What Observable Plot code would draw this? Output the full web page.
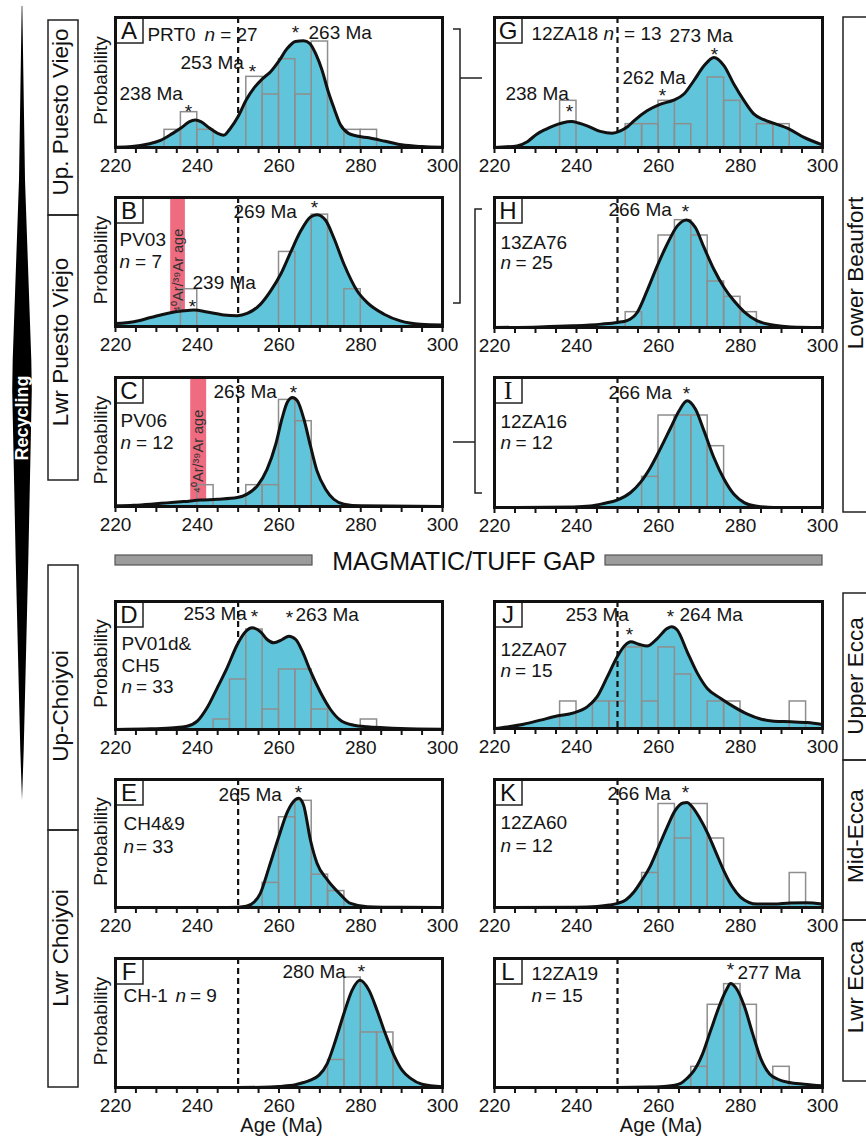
<!DOCTYPE html>
<html><head><meta charset="utf-8">
<script src="https://cdn.jsdelivr.net/npm/d3@7"></script>
<script src="https://cdn.jsdelivr.net/npm/@observablehq/plot@0.6"></script>
<style>
body{margin:0;background:#fff;}
#root{position:relative;width:866px;height:1136px;overflow:hidden;font-family:"Liberation Sans",Arial,sans-serif;}
#root svg{position:absolute;overflow:visible;}
</style></head><body><div id="root"></div>
<script>
// ---------- axis data ----------
const ageDomain = [220, 300];
const minorTicks = [220,225,230,235,240,245,250,255,260,265,270,275,280,285,290,295,300];
const tickLabels = [220,240,260,280,300];
const binWidth = 4;
const cutoffAge = 250;

// ---------- sample metadata (panels A..L) ----------
const panelLetters = ["A","B","C","D","E","F","G","H","I","J","K","L"];
const sampleNames = ["PRT0","PV03","PV06","PV01d&\nCH5","CH4&9","CH-1","12ZA18","13ZA76","12ZA16","12ZA07","12ZA60","12ZA19"];
const grainCounts = [27,7,12,33,33,9,13,25,12,15,12,15];
const peakAges = [[238,253,263],[239,269],[263],[253,263],[265],[280],[238,262,273],[266],[266],[253,264],[266],[277]];
const arArBands = [[233.5,237.1],[238.4,242.3]]; // B, C

// ---------- histograms: [bin start (Ma), grain count] ----------
const histA = [[232,1],[236,2],[240,1],[252,4],[256,3],[260,5],[264,3],[268,6],[276,1],[280,1]];
const histB = [[236,1],[260,2],[268,3],[276,1]];
const histC = [[240,1],[252,1],[256,1],[260,5],[264,4]];
const histD = [[244,1],[248,5],[252,10],[256,2],[260,6],[264,6],[268,2],[280,1]];
const histE = [[256,3],[260,11],[264,13],[268,4],[272,2]];
const histF = [[272,1],[276,4],[280,2],[284,2]];
const histG = [[236,2],[252,1],[256,1],[260,2],[264,1],[272,3],[276,2],[284,1],[288,1]];
const histH = [[252,1],[260,6],[264,7],[268,6],[272,3],[276,2],[280,1]];
const histI = [[256,1],[260,3],[264,3],[268,3],[272,2]];
const histJ = [[236,1],[244,1],[248,1],[252,3],[256,1],[260,3],[264,2],[272,1],[276,1],[292,1]];
const histK = [[256,1],[260,3],[264,2],[268,3],[272,2],[292,1]];
const histL = [[268,1],[272,4],[276,5],[280,4],[288,1]];

// ---------- probability density curves: [age (Ma), value in count units] ----------
const curveA = [[220,0.02],[224,0.06],[228,0.2],[231,0.4],[234,0.8],[236,1.1],[238,1.45],[239.5,1.55],[241,1.45],[243,1.1],[245,0.8],[246.5,0.7],[248,1.05],[250,1.75],[252,2.7],[254,3.4],[256,3.9],[258,4.3],[260,4.9],[262,5.6],[264,6.0],[266,6.05],[267.5,5.9],[269,5.3],[270.5,4.4],[272,3.2],[273.5,2.2],[275,1.3],[277,0.8],[279,0.65],[282,0.55],[286,0.35],[290,0.15],[295,0.05],[300,0.01]];
const curveB = [[220,0.08],[224.5,0.13],[228.6,0.24],[232.6,0.35],[236.7,0.42],[239.2,0.44],[242.4,0.39],[246.5,0.31],[249.8,0.29],[252.2,0.35],[255.5,0.6],[258,0.96],[260.4,1.4],[262.8,1.98],[265.3,2.56],[267.7,2.94],[269.3,3.0],[271.4,2.85],[273.4,2.38],[275.9,1.67],[279.1,0.96],[281.6,0.64],[285.7,0.33],[289.7,0.15],[294.6,0.06],[300,0.04]];
const curveC = [[220,0.03],[224.5,0.06],[228.6,0.11],[232.6,0.17],[236.7,0.23],[240.8,0.3],[244.9,0.34],[249.8,0.42],[252.2,0.58],[254.7,0.97],[257.1,1.75],[259.2,2.92],[260.8,4.17],[262,4.88],[263.3,5.11],[264.5,4.95],[266.1,4.09],[267.7,2.84],[269.3,1.67],[271.4,0.81],[273.4,0.34],[275.9,0.11],[280,0.03],[300,0]];
const curveD = [[220,0],[228.6,0.07],[234.3,0.17],[237.5,0.33],[240,0.83],[242.4,2.17],[244.9,4.17],[247.3,6.17],[249.8,8.5],[251.8,9.77],[253.4,10.17],[255.5,9.77],[257.1,9.0],[258.7,8.67],[260.8,9.0],[262.4,9.33],[264.1,9.0],[265.7,7.83],[267.7,5.83],[270.2,3.67],[272.6,2.0],[275.1,0.9],[278.3,0.43],[281.6,0.27],[285.7,0.17],[289.7,0.1],[300,0.03]];
const curveE = [[220,0],[245,0.01],[250,0.04],[252,0.15],[254,0.7],[255.4,1.7],[257.5,4.8],[259.8,8.4],[262,11.6],[263.5,12.9],[264.8,13.3],[266,12.5],[267.7,8.2],[269.3,5.4],[271.8,3.4],[275,1.6],[277.5,0.5],[281.6,0.1],[290,0.02],[300,0]];
const curveF = [[220,0],[250,0],[256,0.01],[260,0.04],[264,0.1],[266,0.18],[267.7,0.27],[269.8,0.45],[271.8,0.87],[273.8,1.7],[275.9,2.7],[277.9,3.54],[279.8,3.9],[282,3.54],[284,2.8],[286,1.96],[288.1,1.18],[290.1,0.63],[292.2,0.33],[295,0.12],[300,0.03]];
const curveG = [[220,0],[222,0.02],[225.5,0.07],[228,0.25],[230.3,0.57],[232.5,0.78],[234.4,0.93],[236.5,1.05],[238.8,1.11],[240.5,1.05],[242.6,0.93],[245.8,0.69],[248.7,0.61],[250.7,0.71],[252.5,0.9],[254,1.14],[257.2,1.57],[260.5,1.86],[263.7,2.03],[266.2,2.29],[268.6,2.86],[271.1,3.5],[273.5,3.86],[276,3.5],[278.4,2.71],[280.9,2.0],[283.3,1.43],[285.7,1.19],[288.2,1.03],[291.9,0.79],[295.5,0.43],[300,0.11]];
const curveH = [[220,0],[231,0.04],[239,0.11],[246,0.22],[250,0.33],[252.3,0.45],[254.8,0.98],[257.2,2.39],[259.7,4.02],[262.1,5.43],[264.6,6.63],[266.8,7.02],[269,6.52],[271.1,5.22],[273.5,3.8],[276,2.61],[278.4,1.74],[280.9,1.02],[284.1,0.43],[288.2,0.15],[292.3,0.04],[300,0]];
const curveI = [[220,0],[239.3,0.02],[243.4,0.05],[246.6,0.13],[249.9,0.24],[253.2,0.49],[255.6,0.82],[258,1.3],[260.5,1.93],[263,2.61],[265,3.15],[267,3.48],[269,3.21],[271.1,2.5],[273.5,1.63],[276,0.92],[278.4,0.43],[280.9,0.16],[284.1,0.04],[288.2,0],[300,0]];
const curveJ = [[220,0],[223,0.06],[227.1,0.16],[231.2,0.31],[235.2,0.46],[239.3,0.58],[242.6,0.8],[245,1.17],[247.5,1.91],[249.9,2.65],[251.9,3.09],[253.2,3.21],[255.2,3.12],[257.2,3.05],[259.7,3.33],[262.1,3.7],[263.2,3.77],[264.6,3.64],[267,2.84],[269.5,2.04],[271.9,1.48],[275.2,1.11],[278.4,0.8],[281.7,0.53],[284.9,0.35],[288.2,0.27],[292.3,0.25],[296.3,0.22],[300,0.15]];
const curveK = [[220,0],[240,0.01],[245,0.03],[248,0.07],[250,0.12],[252,0.22],[254,0.45],[256,0.8],[258,1.2],[260,1.75],[262,2.3],[264,2.8],[266,3.03],[267,3.04],[268,2.95],[270,2.6],[272,2.15],[274,1.6],[276,1.05],[278,0.6],[280,0.3],[282,0.15],[284,0.1],[288,0.1],[292,0.13],[296,0.14],[300,0.1]];
const curveL = [[220,0],[250,0],[258,0.02],[262,0.06],[265.4,0.2],[267,0.45],[268.6,0.8],[270.7,1.6],[272.7,2.74],[275,4.03],[276.5,4.7],[277.6,5.03],[278.8,4.84],[280.9,3.95],[283,2.58],[285,1.37],[287.1,0.65],[289.1,0.4],[291.9,0.24],[295.5,0.16],[300,0.08]];

// ---------- layout ----------
const FONT = '"Liberation Sans", Arial, Helvetica, sans-serif';
const CYAN = "#60c5da";
const PINK = "#ef6b80";
const colFrames = [[115, 442], [494, 822]];

const panels = [
 {i:0, col:0, top:17, bottom:147, hist:histA, curve:curveA, yTop:7.36, sample:[227.8,17], n:[241.8,245.6,17],
  peaks:[[220.98,76],[235.9,45],[267.22,15]], stars:[[237.86,94],[253.52,54],[264.04,15]]},
 {i:1, col:0, top:197, bottom:326, hist:histB, curve:curveB, yTop:3.46, sample:[220.98,42], n:[220.98,224.8,64],
  peaks:[[238.84,85],[248.87,14]], stars:[[238.84,109],[268.68,10]], band:0, bandDy:73},
 {i:2, col:0, top:377, bottom:506, hist:histC, curve:curveC, yTop:6.05, sample:[221.22,43], n:[221.22,225.0,65],
  peaks:[[243.98,14]], stars:[[263.55,15]], band:1, bandDy:74},
 {i:3, col:0, top:601, bottom:729, hist:histD, curve:curveD, yTop:12.8, sample:[221.47,42], n:[221.47,225.0,85],
  peaks:[[236.64,12],[264.04,13]], stars:[[254.01,15],[262.57,16]]},
 {i:4, col:0, top:779, bottom:907, hist:histE, curve:curveE, yTop:15.6, sample:[221.96,44], n:[221.96,225.0,67],
  peaks:[[245.2,15]], stars:[[264.77,13]]},
 {i:5, col:0, top:958, bottom:1087, hist:histF, curve:curveF, yTop:4.69, sample:[221.96,37], n:[234.68,238.2,37],
  peaks:[[260.86,13]], stars:[[280.18,13]], xTitle:true},
 {i:6, col:1, top:17, bottom:147, hist:histG, curve:curveG, yTop:5.57, sample:[229.02,16], n:[246.59,251.6,16],
  peaks:[[222.68,76],[251.22,60],[262.68,18]], stars:[[238.29,94],[260.98,78],[273.66,37]]},
 {i:7, col:1, top:197, bottom:327, hist:histH, curve:curveH, yTop:8.48, sample:[221.46,45], n:[221.46,225.1,65],
  peaks:[[247.8,12]], stars:[[266.59,14]]},
 {i:8, col:1, top:377, bottom:507, hist:histI, curve:curveI, yTop:4.24, sample:[221.46,44], n:[221.46,225.1,65],
  peaks:[[247.8,15]], stars:[[266.83,16]], serif:true},
 {i:9, col:1, top:601, bottom:728, hist:histJ, curve:curveJ, yTop:4.70, sample:[221.46,48], n:[221.46,225.0,69],
  peaks:[[237.32,13],[265.12,13]], stars:[[252.93,33],[262.93,15]], dashOnTop:true},
 {i:10, col:1, top:779, bottom:907, hist:histK, curve:curveK, yTop:3.71, sample:[221.46,43], n:[221.46,225.1,66],
  peaks:[[247.56,14]], stars:[[266.59,13]]},
 {i:11, col:1, top:958, bottom:1087, hist:histL, curve:curveL, yTop:6.24, sample:[229.02,15], n:[229.02,232.4,37],
  peaks:[[279.27,14]], stars:[[277.56,11]], xTitle:true}
];

const root = document.getElementById("root");

// ---------- decorations (non-data) ----------
const deco = d3.select(root).append("svg").attr("width", 866).attr("height", 1136)
  .style("left", "0px").style("top", "0px");

// Recycling wedge
const wedgeHalf = [[6,0.3],[180,3],[360,9.3],[390,9.8],[560,6.3],[750,1.7],[800,0]];
const wcx = 22;
const wpts = wedgeHalf.map(([y,h]) => [wcx + h, y]).concat(wedgeHalf.slice().reverse().map(([y,h]) => [wcx - h, y]));
deco.append("polygon").attr("points", wpts.map(p => p.join(",")).join(" ")).attr("fill", "black");
deco.append("text").attr("transform", "translate(22,418) rotate(-90)").attr("text-anchor", "middle")
  .attr("dy", "0.35em").attr("fill", "white").attr("font-weight", "bold").attr("font-size", 18)
  .attr("font-family", FONT).text("Recycling");

// stratigraphic boxes
function stratBox(x, w, y1, y2, label, cx, cy) {
  deco.append("rect").attr("x", x).attr("y", y1).attr("width", w).attr("height", y2 - y1)
    .attr("fill", "none").attr("stroke", "#222").attr("stroke-width", 1.5);
  deco.append("text").attr("transform", `translate(${cx},${cy}) rotate(-90)`).attr("text-anchor", "middle")
    .attr("dy", "0.32em").attr("font-size", 22.5).attr("font-family", FONT).attr("fill", "#111").text(label);
}
stratBox(48, 30, 20, 215, "Up. Puesto Viejo", 60.8, 112);
stratBox(48, 30, 215, 480, "Lwr Puesto Viejo", 60.8, 342);
stratBox(48, 30, 565, 830, "Up-Choiyoi", 60.8, 706);
stratBox(48, 30, 830, 1087, "Lwr Choiyoi", 60.8, 948);
stratBox(843, 45, 17, 512, "Lower Beaufort", 855.5, 273);
stratBox(843, 45, 593, 760, "Upper Ecca", 855.5, 676);
stratBox(843, 45, 760, 920, "Mid-Ecca", 855.5, 836);
stratBox(843, 45, 920, 1081, "Lwr Ecca", 855.5, 987);

// brackets
const br = "M453,29 H460 V303 H453 M460,78 H482 M482,209 H475 V493 H482 M475,442 H453";
deco.append("path").attr("d", br).attr("fill", "none").attr("stroke", "#222").attr("stroke-width", 1.5);

// magmatic gap banner
deco.append("rect").attr("x", 115).attr("y", 555).attr("width", 197).attr("height", 10)
  .attr("fill", "#9c9c9c").attr("stroke", "#555").attr("stroke-width", 1.2);
deco.append("rect").attr("x", 605).attr("y", 555).attr("width", 217).attr("height", 10)
  .attr("fill", "#9c9c9c").attr("stroke", "#555").attr("stroke-width", 1.2);
deco.append("text").attr("x", 464).attr("y", 561).attr("dy", "0.35em").attr("text-anchor", "middle")
  .attr("font-size", 25).attr("font-family", FONT).attr("fill", "#111").text("MAGMATIC/TUFF GAP");

// ---------- panels ----------
function letterBox(letter, serif) {
  return (index, scales, values, dims) => {
    const g = d3.create("svg:g");
    g.append("rect").attr("x", dims.marginLeft).attr("y", dims.marginTop).attr("width", 28).attr("height", 26)
      .attr("fill", "white").attr("stroke", "#222").attr("stroke-width", 1.5);
    g.append("text").attr("x", dims.marginLeft + 14).attr("y", dims.marginTop + 13).attr("dy", "0.36em")
      .attr("text-anchor", "middle").attr("font-size", serif ? 26 : 24)
      .attr("font-family", serif ? '"Liberation Serif", "Times New Roman", serif' : FONT)
      .attr("fill", "#111").text(letter);
    return g.node();
  };
}

function drawPanel(p) {
  const [fl, fr] = colFrames[p.col];
  const mL = 30, mR = 30, mT = 6, mB = p.xTitle ? 52 : 40;
  const frameH = p.bottom - p.top;
  const toY = dy => p.yTop * (1 - dy / frameH);
  const curveData = p.curve.map(([age, v]) => ({age, v}));
  const bins = p.hist.map(([start, count]) => ({x1: start, x2: start + binWidth, count}));

  const texts = [];
  sampleNames[p.i].split("\n").forEach((line, k) => texts.push({x: p.sample[0], y: toY(p.sample[1] + 22 * k), t: line}));
  texts.push({x: p.n[1], y: toY(p.n[2]), t: `= ${grainCounts[p.i]}`});
  peakAges[p.i].forEach((a, k) => texts.push({x: p.peaks[k][0], y: toY(p.peaks[k][1]), t: `${a} Ma`}));
  const italics = [{x: p.n[0], y: toY(p.n[2]), t: "n"}];
  const stars = p.stars.map(([x, dy]) => ({x, y: toY(dy), t: "*"}));

  const dash = Plot.ruleX([cutoffAge], {stroke: "#111", strokeWidth: 2.2, strokeDasharray: "6,4"});
  const marks = [];
  if (p.band !== undefined) {
    marks.push(Plot.rect([arArBands[p.band]], {x1: d => d[0], x2: d => d[1], y1: 0, y2: p.yTop, fill: PINK}));
  }
  if (!p.dashOnTop) marks.push(dash);
  marks.push(Plot.areaY(curveData, {x: "age", y: "v", fill: CYAN, curve: "monotone-x"}));
  marks.push(Plot.rect(bins, {x1: "x1", x2: "x2", y1: 0, y2: "count", fill: "none", stroke: "#8e8e8e", strokeWidth: 1.5}));
  if (p.dashOnTop) marks.push(dash);
  marks.push(Plot.lineY(curveData, {x: "age", y: "v", stroke: "#111", strokeWidth: 3, curve: "monotone-x"}));
  if (p.band !== undefined) {
    const b = arArBands[p.band];
    marks.push(Plot.text([b], {x: d => (d[0] + d[1]) / 2, y: toY(p.bandDy), rotate: -90,
      text: () => "⁴⁰Ar/³⁹Ar age", fontSize: 14.5, fill: "#333"}));
  }
  marks.push(Plot.text(texts, {x: "x", y: "y", text: "t", textAnchor: "start", fontSize: 19, fill: "#151515"}));
  marks.push(Plot.text(italics, {x: "x", y: "y", text: "t", textAnchor: "start", fontSize: 19, fontStyle: "italic", fill: "#151515"}));
  marks.push(Plot.text(stars, {x: "x", y: "y", text: "t", textAnchor: "middle", fontSize: 19, fill: "#151515"}));
  if (p.col === 0) {
    marks.push(Plot.text(["Probability"], {x: ageDomain[0], y: p.yTop / 2, dx: -15, dy: -2, rotate: -90,
      text: d => d, fontSize: 19, fill: "#151515"}));
  }
  if (p.xTitle) {
    marks.push(Plot.text(["Age (Ma)"], {x: 260.6, y: -p.yTop * 38 / frameH, text: d => d, fontSize: 20, fill: "#151515"}));
  }
  marks.push(Plot.axisX({ticks: minorTicks, tickFormat: d => tickLabels.includes(d) ? String(d) : "",
    tickSize: 6, tickPadding: 5, strokeWidth: 2, fontSize: 19, label: null}));
  marks.push(letterBox(panelLetters[p.i], p.serif));
  marks.push(Plot.frame({stroke: "#111", strokeWidth: 3}));

  const svg = Plot.plot({
    width: (fr - fl) + mL + mR,
    height: frameH + mT + mB,
    marginLeft: mL, marginRight: mR, marginTop: mT, marginBottom: mB,
    x: {domain: ageDomain},
    y: {domain: [0, p.yTop], axis: null},
    style: {background: "transparent", overflow: "visible", fontFamily: FONT, fontSize: "19px", color: "#151515"},
    marks
  });
  svg.style.left = (fl - mL) + "px";
  svg.style.top = (p.top - mT) + "px";
  root.appendChild(svg);
}

panels.forEach(drawPanel);
</script>
</body></html>
